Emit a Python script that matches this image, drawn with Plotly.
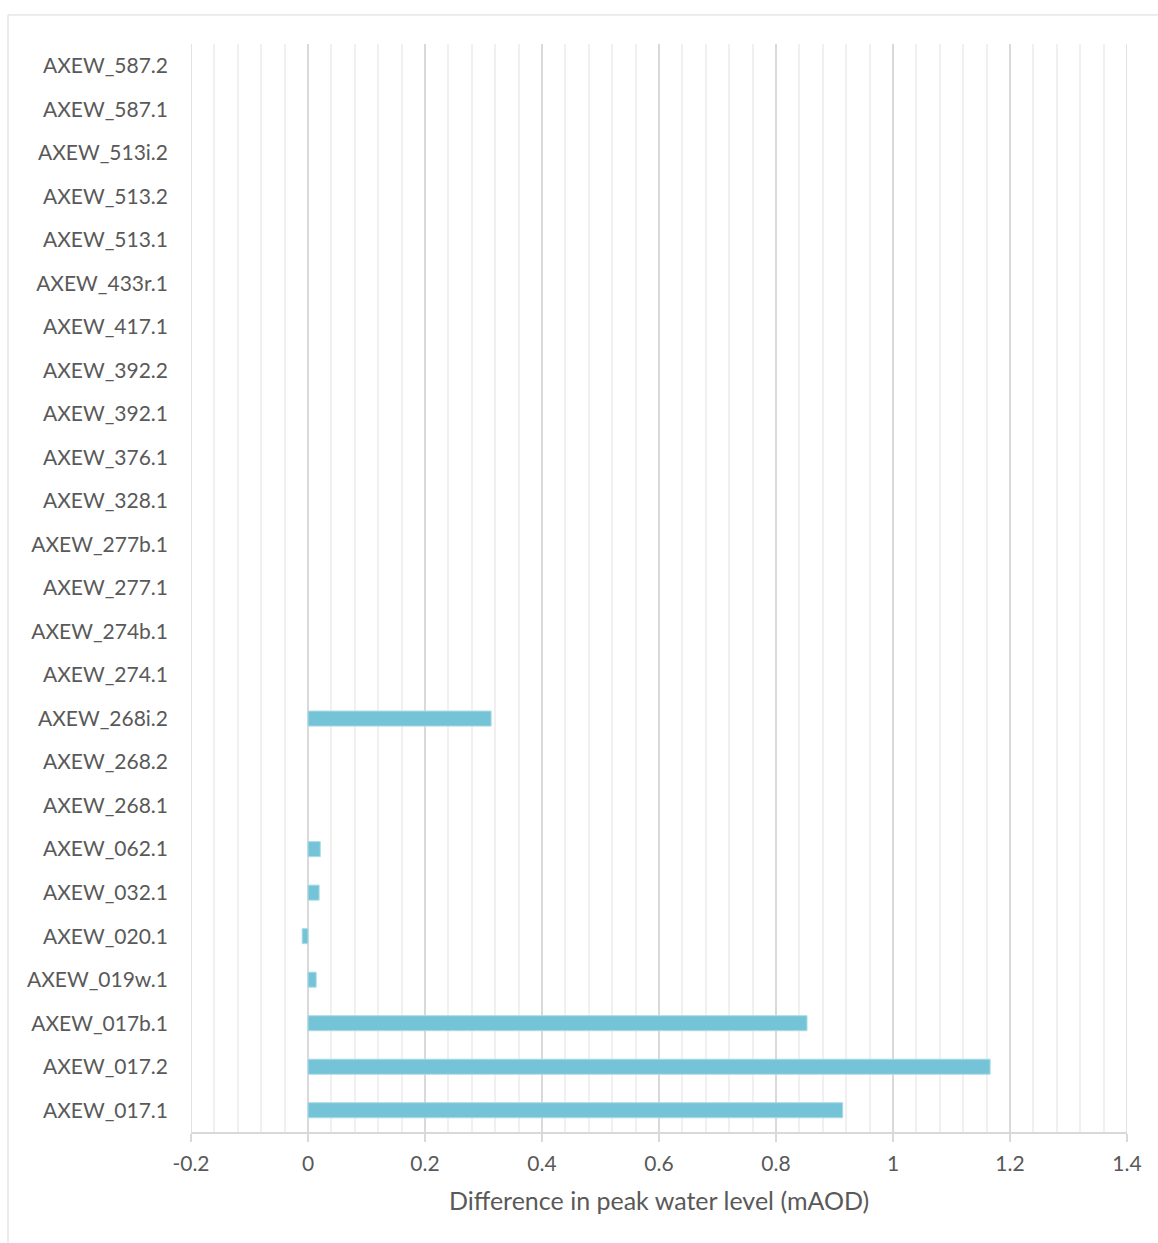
import plotly.graph_objects as go

# Cross-section labels, bottom to top as drawn
sections = [
    "AXEW_017.1", "AXEW_017.2", "AXEW_017b.1", "AXEW_019w.1", "AXEW_020.1",
    "AXEW_032.1", "AXEW_062.1", "AXEW_268.1", "AXEW_268.2", "AXEW_268i.2",
    "AXEW_274.1", "AXEW_274b.1", "AXEW_277.1", "AXEW_277b.1", "AXEW_328.1",
    "AXEW_376.1", "AXEW_392.1", "AXEW_392.2", "AXEW_417.1", "AXEW_433r.1",
    "AXEW_513.1", "AXEW_513.2", "AXEW_513i.2", "AXEW_587.1", "AXEW_587.2",
]

# Difference in peak water level (mAOD); None where no result is plotted
difference = [
    0.914, 1.166, 0.853, 0.014, -0.010,
    0.019, 0.021, None, None, 0.313,
    None, None, None, None, None,
    None, None, None, None, None,
    None, None, None, None, None,
]

x_ticks = [-0.2, 0, 0.2, 0.4, 0.6, 0.8, 1, 1.2, 1.4]
x_tick_text = ["-0.2", "0", "0.2", "0.4", "0.6", "0.8", "1", "1.2", "1.4"]
x_range = [-0.2, 1.4]

FONT = "Lato"
TEXT = "#595959"
MAJOR_GRID = "#D9D9D9"

fig = go.Figure(
    go.Bar(
        y=sections,
        x=difference,
        orientation="h",
        marker=dict(color="#74C3D6", line=dict(color="#A9DCE8", width=1)),
    )
)

# major gridlines at both ends of the value range (plotly omits edge gridlines)
edge_lines = [
    dict(type="line", xref="x", yref="paper", x0=v, x1=v, y0=0, y1=1,
         line=dict(color=MAJOR_GRID, width=1.5), layer="below")
    for v in x_range
]

fig.update_layout(
    width=1158,
    height=1243,
    margin=dict(l=191, r=31, t=44, b=111),
    paper_bgcolor="white",
    plot_bgcolor="white",
    bargap=0.655,
    showlegend=False,
    font=dict(family=FONT, size=21, color=TEXT),
    shapes=[
        # chart area frame (left and top edges visible)
        dict(type="rect", xref="paper", yref="paper",
             x0=-0.1955, x1=1.2, y0=-0.3, y1=1.0267,
             line=dict(color="#D9D9D9", width=1), fillcolor="rgba(0,0,0,0)",
             layer="below"),
    ] + edge_lines,
)

fig.update_xaxes(
    range=x_range,
    tickvals=x_ticks,
    ticktext=x_tick_text,
    showgrid=True,
    gridcolor=MAJOR_GRID,
    gridwidth=1.5,
    zeroline=False,
    showline=True,
    linecolor=MAJOR_GRID,
    linewidth=2,
    ticks="outside",
    ticklen=8,
    tickwidth=2,
    tickcolor=MAJOR_GRID,
    ticklabelstandoff=4,
    tickfont=dict(family=FONT, size=21, color=TEXT),
    minor=dict(dtick=0.04, tick0=-0.2, showgrid=True, gridcolor="#F0F0F0",
               gridwidth=1.5, ticks=""),
    title=dict(text="Difference in peak water level (mAOD)",
               font=dict(family=FONT, size=25, color=TEXT), standoff=18),
)

fig.update_yaxes(
    type="category",
    categoryorder="array",
    categoryarray=sections,
    range=[-0.5, len(sections) - 0.5],
    showgrid=False,
    zeroline=False,
    showline=False,
    ticks="",
    ticklabelstandoff=22,
    tickfont=dict(family=FONT, size=21, color=TEXT),
)

fig.write_html("out.html")
